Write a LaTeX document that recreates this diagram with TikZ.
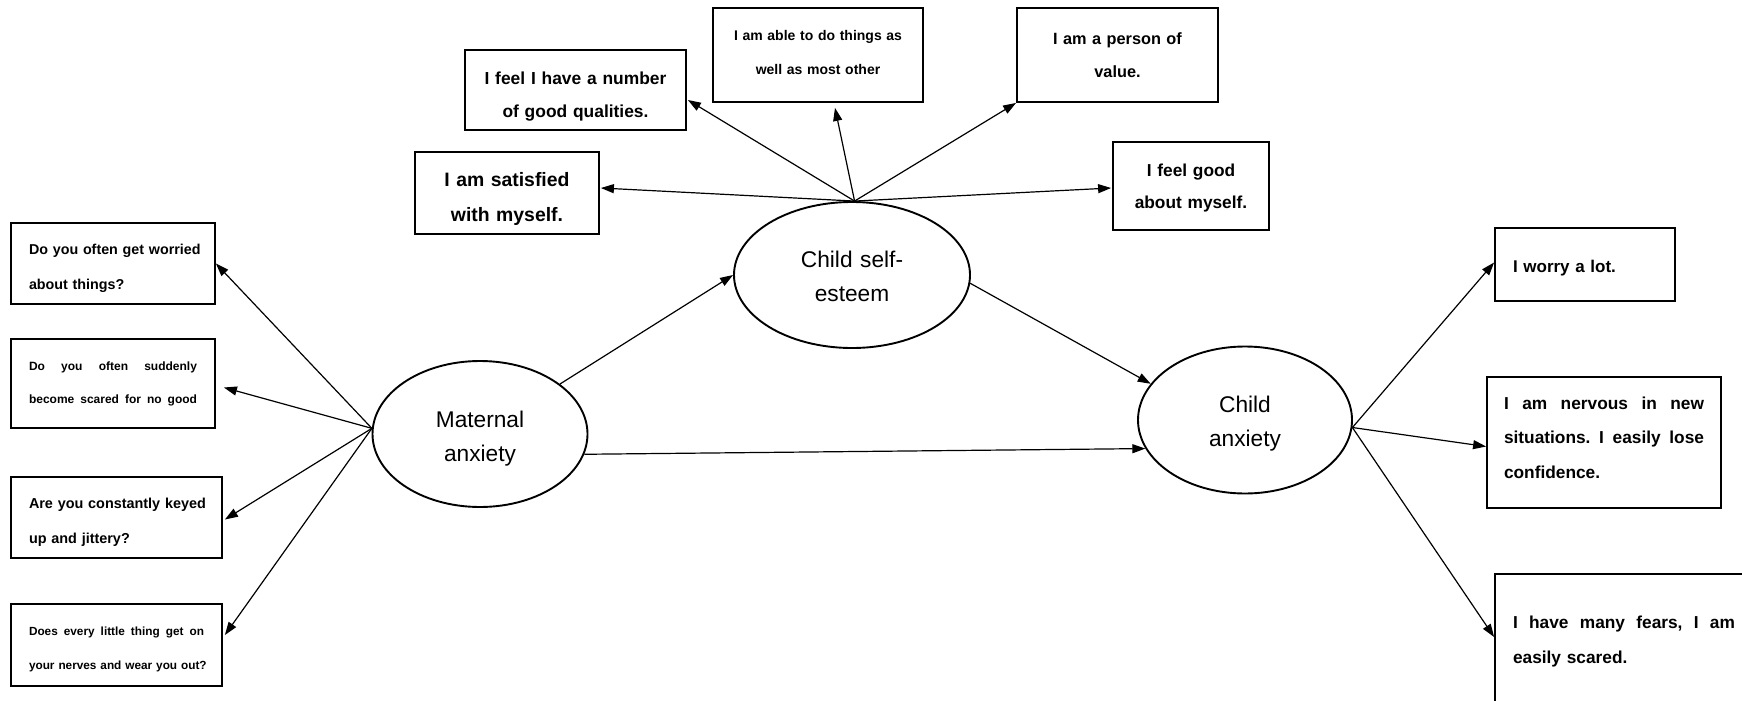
\documentclass[tikz,border=0pt]{standalone}
\usepackage{fontspec}
\setmainfont{Liberation Sans}
\frenchspacing
\usetikzlibrary{arrows.meta,calc,shapes.geometric}
\newcommand{\jline}[2]{\leavevmode\hbox to #1{#2}}
\begin{document}
\begin{tikzpicture}[x=1pt,y=-1pt,
  box/.style={draw, line width=1.8pt, rectangle, inner sep=0pt},
  lat/.style={draw, line width=1.9pt, ellipse, inner sep=0pt, text width=140pt, align=center,
    font={\fontsize{22.7}{34}\selectfont}},
  arr/.style={line width=1.2pt, -{Triangle[length=13pt,width=9pt]}}]
\useasboundingbox (0,0) rectangle (1742,701);
\fill[white] (0,0) rectangle (1742,701);

% latent variables
\node[lat, minimum width=215pt, minimum height=146pt, text height=28pt, text depth=42pt] (ma) at (480,434) {Maternal\\anxiety};
\node[lat, minimum width=236pt, minimum height=146pt, text height=27pt, text depth=43pt] (se) at (852,275) {Child self-\\esteem};
\node[lat, minimum width=214pt, minimum height=147pt, text height=27pt, text depth=43pt] (ca) at (1245,420) {Child\\anxiety};

% maternal anxiety items
\node[box, minimum width=204pt, minimum height=81pt, text width=168pt, align=left,
  font={\fontsize{14.3}{35}\selectfont\bfseries}, text height=25.9pt, text depth=44.1pt]
  (q1) at (113,263.5) {\mbox{Do you often get worried}\\\mbox{about things?}};
\node[box, minimum width=204pt, minimum height=89pt, text width=168pt, align=left,
  font={\fontsize{12}{33}\selectfont\bfseries}, text height=22.2pt, text depth=47.8pt]
  (q2) at (113,383.5) {\jline{168pt}{Do\hfill you\hfill often\hfill suddenly}\\\jline{168pt}{become\hfill scared\hfill for\hfill no\hfill good}};
\node[box, minimum width=211pt, minimum height=81pt, text width=175pt, align=left,
  font={\fontsize{14.4}{35}\selectfont\bfseries}, text height=26pt, text depth=44pt]
  (q3) at (116.5,517.5) {\mbox{Are you constantly keyed}\\\mbox{up and jittery?}};
\node[box, minimum width=211pt, minimum height=82pt, text width=175pt, align=left,
  font={\fontsize{11.8}{34}\selectfont\bfseries}, text height=25.7pt, text depth=44.3pt]
  (q4) at (116.5,645) {\jline{175pt}{Does\hfill every\hfill little\hfill thing\hfill get\hfill on}\\\mbox{your nerves and wear you out?}};

% self-esteem items
\node[box, minimum width=184pt, minimum height=82pt, text width=180pt, align=center,
  font={\fontsize{19.4}{35}\selectfont\bfseries}, text height=28pt, text depth=42pt]
  (sat) at (507,193) {I am satisfied\\with myself.};
\node[box, minimum width=221pt, minimum height=80pt, text width=215pt, align=center,
  font={\fontsize{17.4}{33}\selectfont\bfseries}, text height=29.4pt, text depth=40.6pt]
  (good) at (575.5,90) {I feel I have a number\\of good qualities.};
\node[box, minimum width=210pt, minimum height=94pt, text width=205pt, align=center,
  font={\fontsize{14}{34}\selectfont\bfseries}, text height=20.3pt, text depth=49.7pt]
  (able) at (818,55) {I am able to do things as\\well as most other};
\node[box, minimum width=201pt, minimum height=94pt, text width=195pt, align=center,
  font={\fontsize{16.3}{33}\selectfont\bfseries}, text height=25pt, text depth=45pt]
  (person) at (1117.5,55) {I am a person of\\value.};
\node[box, minimum width=156pt, minimum height=88pt, text width=150pt, align=center,
  font={\fontsize{17.3}{32}\selectfont\bfseries}, text height=25.4pt, text depth=44.6pt]
  (feel) at (1191,186) {I feel good\\about myself.};

% child anxiety items
\node[box, minimum width=180pt, minimum height=73pt, text width=144pt, align=left,
  font={\fontsize{17}{20}\selectfont\bfseries}, text height=42.8pt, text depth=27.2pt]
  (worry) at (1585,264.5) {I worry a lot.};
\node[box, minimum width=234pt, minimum height=131pt, text width=200pt, align=left,
  font={\fontsize{17.3}{34.5}\selectfont\bfseries}, text height=1.9pt, text depth=68.1pt]
  (nerv) at (1604,442.5) {\jline{200pt}{I\hfill am\hfill nervous\hfill in\hfill new}\\\jline{200pt}{situations.\hfill I\hfill easily\hfill lose}\\\mbox{confidence.}};
\node[box, minimum width=258pt, minimum height=150pt, text width=222pt, align=left,
  font={\fontsize{17.3}{35}\selectfont\bfseries}, text height=14.4pt, text depth=55.6pt]
  (fears) at (1624,649) {\jline{222pt}{I\hfill have\hfill many\hfill fears,\hfill I\hfill am}\\\mbox{easily scared.}};

% connectors
\draw[arr] (ma.177) -- (q1.east);
\draw[arr] (ma.177) -- ($(q2.east)+(8,4)$);
\draw[arr] (ma.177) -- ($(q3.east)+(2,2)$);
\draw[arr] (ma.177) -- ($(q4.east)+(2,-10)$);

\draw[arr] (se.88) -- ($(sat.east)+(1,-5)$);
\draw[arr] (se.88) -- ($(good.east)+(1,10)$);
\draw[arr] (se.88) -- ($(able.south)+(17,5)$);
\draw[arr] (se.88) -- (person.south west);
\draw[arr] (se.88) -- ($(feel.west)+(-1,2)$);

\draw[arr] (ma.32) -- (se.west);
\draw[arr] (ma.-11) -- (ca.196);
\draw[arr] (se.-4) -- (ca.159);

\draw[arr] (ca.-4) -- ($(worry.west)+(0,-2)$);
\draw[arr] (ca.-4) -- ($(nerv.west)+(0,4)$);
\draw[arr] (ca.-4) -- ($(fears.west)+(0,-12)$);
\end{tikzpicture}
\end{document}
